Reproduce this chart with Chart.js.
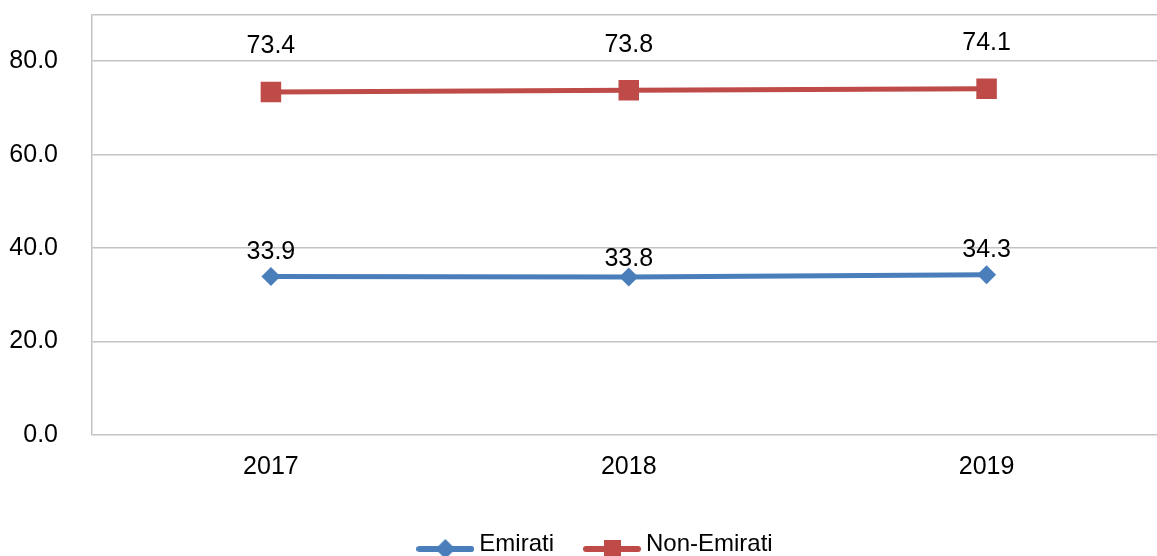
<!DOCTYPE html>
<html>
<head>
<meta charset="utf-8">
<script src="https://cdn.jsdelivr.net/npm/chart.js@4/dist/chart.umd.min.js"></script>
<style>
  html, body { margin: 0; padding: 0; background: #fff; overflow: hidden; }
  #wrap { width: 1180px; height: 566px; }
</style>
</head>
<body>
<div id="wrap"><canvas id="lineChart"></canvas></div>
<script>
const years = ["2017", "2018", "2019"];
const emirati = [33.9, 33.8, 34.3];
const nonEmirati = [73.4, 73.8, 74.1];
const yTicks = [0, 20, 40, 60, 80];

const BLUE = "#4a7ebb";
const RED = "#be4b48";
const GRID = "#c3c3c3";
const FONT = "'Liberation Sans', Arial, sans-serif";

// legend swatch: short line with the marker in the middle
const makeSwatch = (color, marker) => {
  const c = document.createElement("canvas");
  c.width = 58;
  c.height = 30;
  const g = c.getContext("2d");
  const y = 20;
  g.strokeStyle = color;
  g.lineWidth = 6;
  g.lineCap = "round";
  g.beginPath();
  g.moveTo(3, y);
  g.lineTo(55, y);
  g.stroke();
  g.fillStyle = color;
  g.beginPath();
  if (marker === "diamond") {
    g.moveTo(29, y - 10);
    g.lineTo(39, y);
    g.lineTo(29, y + 10);
    g.lineTo(19, y);
    g.closePath();
  } else {
    g.rect(21, y - 9, 17, 18);
  }
  g.fill();
  return c;
};

// value labels above each point
const labelOffsets = [[25, 17.5, 25], [46, 45.5, 46]];
const pointLabels = {
  id: "pointLabels",
  afterDatasetsDraw(chart) {
    const ctx = chart.ctx;
    ctx.save();
    ctx.font = "25px " + FONT;
    ctx.fillStyle = "#000";
    ctx.textAlign = "center";
    ctx.textBaseline = "middle";
    chart.data.datasets.forEach((ds, di) => {
      chart.getDatasetMeta(di).data.forEach((pt, i) => {
        ctx.fillText(ds.data[i].toFixed(1), pt.x, pt.y - labelOffsets[di][i]);
      });
    });
    ctx.restore();
  }
};

// nudge the legend a little to the right, like the original
const legendShift = {
  id: "legendShift",
  afterLayout(chart) {
    chart.legend.left += 8;
    chart.legend.right += 8;
  }
};

new Chart(document.getElementById("lineChart"), {
  type: "line",
  data: {
    labels: years,
    datasets: [
      {
        label: "Emirati",
        data: emirati,
        borderColor: BLUE,
        backgroundColor: BLUE,
        borderWidth: 5,
        pointStyle: "rectRot",
        pointRadius: 9.5,
        pointHoverRadius: 9.5,
        pointBorderWidth: 0,
        tension: 0
      },
      {
        label: "Non-Emirati",
        data: nonEmirati,
        borderColor: RED,
        backgroundColor: RED,
        borderWidth: 5,
        pointStyle: "rect",
        pointRadius: 14.5,
        pointHoverRadius: 14.5,
        pointBorderWidth: 0,
        tension: 0
      }
    ]
  },
  options: {
    responsive: true,
    maintainAspectRatio: false,
    animation: false,
    layout: { padding: { top: 9, left: 0, right: 0, bottom: 0 } },
    plugins: {
      tooltip: { enabled: false },
      legend: {
        position: "bottom",
        labels: {
          usePointStyle: true,
          pointStyleWidth: 44,
          padding: 36,
          color: "#000",
          font: { family: FONT, size: 24 },
          generateLabels: (chart) => chart.data.datasets.map((ds, i) => ({
            text: ds.label,
            pointStyle: makeSwatch(ds.borderColor, i === 0 ? "diamond" : "square"),
            fillStyle: ds.borderColor,
            strokeStyle: ds.borderColor,
            lineWidth: 0,
            fontColor: "#000",
            datasetIndex: i,
            hidden: false
          }))
        }
      }
    },
    scales: {
      x: {
        offset: true,
        grid: { display: false, drawTicks: false },
        border: { display: false },
        ticks: { color: "#000", padding: 17, font: { family: FONT, size: 25 } },
        afterFit: (scale) => {
          scale.height = 61;
          scale.paddingLeft = 0;
          scale.paddingRight = 0;
        }
      },
      y: {
        min: 0,
        max: 90,
        grid: { color: GRID, lineWidth: 1.5, drawTicks: false },
        border: { display: true, color: GRID, width: 1.5 },
        ticks: {
          stepSize: 20,
          color: "#000",
          padding: 34,
          font: { family: FONT, size: 25 },
          callback: (v) => yTicks.includes(v) ? v.toFixed(1) : ""
        },
        afterFit: (scale) => {
          scale.width = 92;
          scale.paddingTop = 0;
          scale.paddingBottom = 0;
        }
      }
    }
  },
  plugins: [pointLabels, legendShift]
});
</script>
</body>
</html>
